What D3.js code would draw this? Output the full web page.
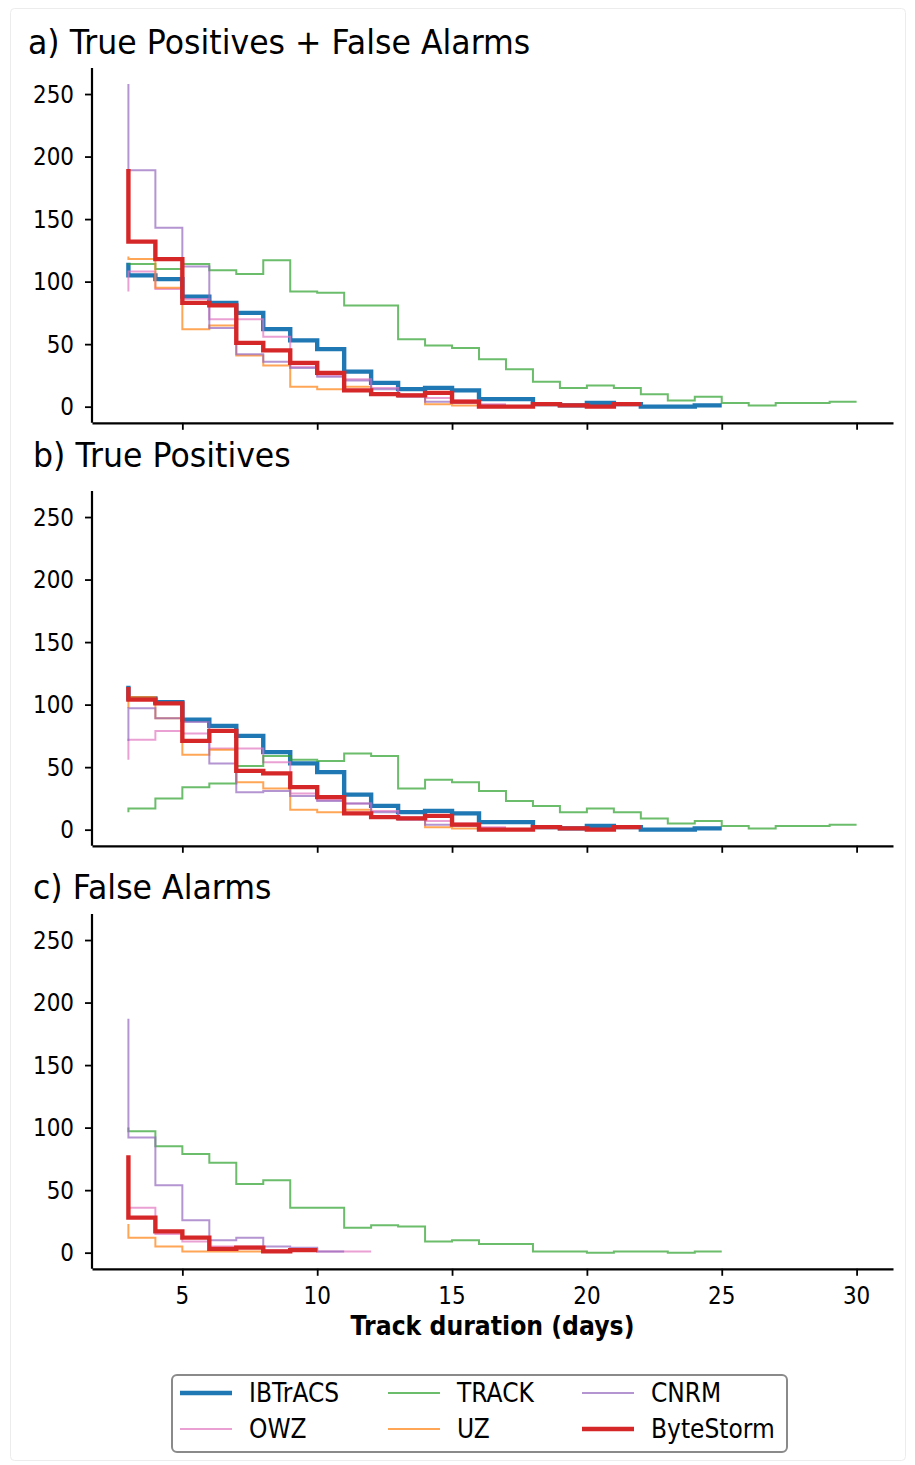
<!DOCTYPE HTML>
<html>
<head>
	<title>Track duration histograms</title>
	<meta http-equiv="Content-Type" content="text/html; charset=utf-8">
	<script src="https://cdn.jsdelivr.net/npm/d3@7"></script>
	<style type="text/css">
		body {
			margin: 0;
			background-color: #ffffff;
		}
		text {
			font-family: "DejaVu Sans", sans-serif;
			fill: #000000;
		}
		.tick line {
			stroke: #000000;
			stroke-width: 1.8;
		}
		.domain {
			stroke: #000000;
			stroke-width: 2.2;
		}
	</style>
</head>
<body>
	<div id="picture"></div>
	<script>
var width  = 915;
var height = 1465;

// counts per duration; first value is the spike at day 3, then one value per 1-day bin
var firstDay  = 3;
var xTicks    = [5, 10, 15, 20, 25, 30];
var yTicks    = [0, 50, 100, 150, 200, 250];
var names     = ["IBTrACS", "OWZ", "TRACK", "UZ", "CNRM", "ByteStorm"];
var colors    = ["#1f77b4", "#e377c2", "#2ca02c", "#ff7f0e", "#9467bd", "#d62728"];
var titles    = ["a) True Positives + False Alarms", "b) True Positives", "c) False Alarms"];

// a) true positives + false alarms
var ibtracsAll   = [115, 105, 102, 88, 83, 75, 62, 53, 46, 28, 19, 14, 15, 13, 6, 6, 2, 1, 3, 2, 0, 0, 1];
var owzAll       = [92, 108, 94, 86, 70, 70, 56, 32, 25, 22, 15, 10, 7, 5, 2];
var trackAll     = [114, 114, 110, 114, 109, 106, 117, 92, 91, 81, 81, 54, 49, 47, 38, 30, 20, 15, 17, 15, 10, 5, 8, 3, 1, 3, 3, 4];
var uzAll        = [120, 118, 95, 62, 65, 41, 33, 16, 14, 16, 11, 9, 2, 1];
var cnrmAll      = [258, 189, 143, 112, 63, 42, 36, 31, 24, 21, 14, 8, 4, 3, 1];
var bytestormAll = [190, 132, 118, 83, 81, 51, 45, 35, 27, 13, 10, 9, 11, 4, 0, 0, 2, 1, 0, 2];

// b) true positives
var ibtracsTP    = [115, 105, 102, 88, 83, 75, 62, 53, 46, 28, 19, 14, 15, 13, 6, 6, 2, 1, 3, 2, 0, 0, 1];
var owzTP        = [56, 72, 79, 77, 65, 65, 54, 29, 24, 21, 15, 10, 7, 5, 2];
var trackTP      = [14, 17, 25, 34, 37, 51, 59, 56, 55, 61, 59, 33, 40, 38, 31, 23, 19, 14, 17, 14, 9, 5, 7, 3, 1, 3, 3, 4];
var uzTP         = [97, 106, 89, 60, 64, 38, 33, 16, 14, 16, 11, 9, 2, 1];
var cnrmTP       = [71, 97, 89, 86, 53, 30, 31, 27, 23, 21, 14, 8, 4, 3, 1];
var bytestormTP  = [114, 104, 101, 71, 79, 47, 45, 34, 26, 13, 10, 9, 11, 4, 0, 0, 2, 1, 0, 2];

// c) false alarms
var ibtracsFA    = [];
var owzFA        = [36, 36, 15, 9, 5, 5, 2, 3, 1, 1];
var trackFA      = [100, 97, 85, 79, 72, 55, 58, 36, 36, 20, 22, 21, 9, 10, 7, 7, 1, 1, 0, 1, 1, 0, 1];
var uzFA         = [23, 12, 5, 1, 1, 1];
var cnrmFA       = [187, 92, 54, 26, 10, 12, 5, 4, 1];
var bytestormFA  = [78, 28, 17, 12, 3, 4, 1, 2];

var panelData = [
	[ibtracsAll, owzAll, trackAll, uzAll, cnrmAll, bytestormAll],
	[ibtracsTP,  owzTP,  trackTP,  uzTP,  cnrmTP,  bytestormTP],
	[ibtracsFA,  owzFA,  trackFA,  uzFA,  cnrmFA,  bytestormFA]
];

var thick    = [true, false, false, false, false, true];
var panelDy  = 423;
var stretch  = 1.13; // lettering in the picture is a bit taller than wide

var x = d3.scaleLinear().domain([1.65, 31.35]).range([92, 893]);
var y = d3.scaleLinear().domain([-12.9, 270.9]).range([422.8, 67.9]);

var line = d3.line()
	.x(function(d, i) { return x(firstDay + i); })
	.y(function(d) { return y(d); })
	.curve(d3.curveStepBefore);

var svg = d3.select("#picture")
	.append("svg")
		.attr("width",  width)
		.attr("height", height);

svg.append("rect")
	.attr("x", 10.5).attr("y", 8.5)
	.attr("width", 895).attr("height", 1452)
	.attr("rx", 4)
	.attr("fill", "none")
	.attr("stroke", "#ececec")
	.attr("stroke-width", 1);

function addText(parent, tx, ty, str, size, anchor, weight, sy) {
	return parent.append("text")
		.attr("transform", "translate(" + tx + "," + ty + ") scale(1," + (sy || stretch) + ")")
		.attr("text-anchor", anchor || "start")
		.style("font-size", size + "px")
		.style("font-weight", weight || "normal")
		.text(str);
}

var titleX = [28, 33, 33];
var titleY = [54, 467, 899];

for(var p = 0; p < 3; p++) {
	var g = svg.append("g").attr("transform", "translate(0," + (p * panelDy) + ")");

	// y axis
	var ya = g.append("g")
		.attr("transform", "translate(" + x.range()[0] + ",0)")
		.call(d3.axisLeft(y).tickValues(yTicks).tickSize(7).tickSizeOuter(0).tickFormat(""));
	ya.select(".domain").attr("d", "M0," + y.range()[1] + "V" + y.range()[0]);
	yTicks.forEach(function(t) {
		addText(g, 74, y(t) + 8.5, t, 21.5, "end");
	});

	// x axis
	var xa = g.append("g")
		.attr("transform", "translate(0," + y.range()[0] + ")")
		.call(d3.axisBottom(x).tickValues(xTicks).tickSize(7).tickSizeOuter(0).tickFormat(""));
	if(p == 2) {
		xTicks.forEach(function(t) {
			addText(g, x(t), y.range()[0] + 35.5, t, 21.5, "middle");
		});
	}

	addText(svg, titleX[p], titleY[p], titles[p], 31.6, "start", "normal", 1.06);

	// step lines
	panelData[p].forEach(function(vals, k) {
		if(vals.length == 0) return;
		g.append("path")
			.attr("d", line(vals))
			.attr("fill", "none")
			.attr("stroke", colors[k])
			.attr("stroke-width", thick[k] ? 4.4 : 2)
			.attr("stroke-opacity", thick[k] ? 1 : 0.7)
			.attr("stroke-linejoin", "miter");
	});
}

addText(svg, (x.range()[0] + x.range()[1]) / 2, 1335, "Track duration (days)", 23.6, "middle", "bold");

// legend: 3 columns filled top to bottom
var legend = svg.append("g");
legend.append("rect")
	.attr("x", 172).attr("y", 1375)
	.attr("width", 615).attr("height", 77)
	.attr("rx", 5)
	.attr("fill", "#ffffff")
	.attr("stroke", "#8a8a8a")
	.attr("stroke-width", 2);

var colX = [180, 388, 582];
var rowY = [1393, 1429];
names.forEach(function(n, k) {
	var cx = colX[Math.floor(k / 2)];
	var cy = rowY[k % 2];
	legend.append("line")
		.attr("x1", cx).attr("x2", cx + 52)
		.attr("y1", cy).attr("y2", cy)
		.attr("stroke", colors[k])
		.attr("stroke-width", thick[k] ? 4.4 : 2)
		.attr("stroke-opacity", thick[k] ? 1 : 0.7);
	addText(legend, cx + 69, cy + 9, n, 23.4, "start");
});
	</script>
</body>
</html>
